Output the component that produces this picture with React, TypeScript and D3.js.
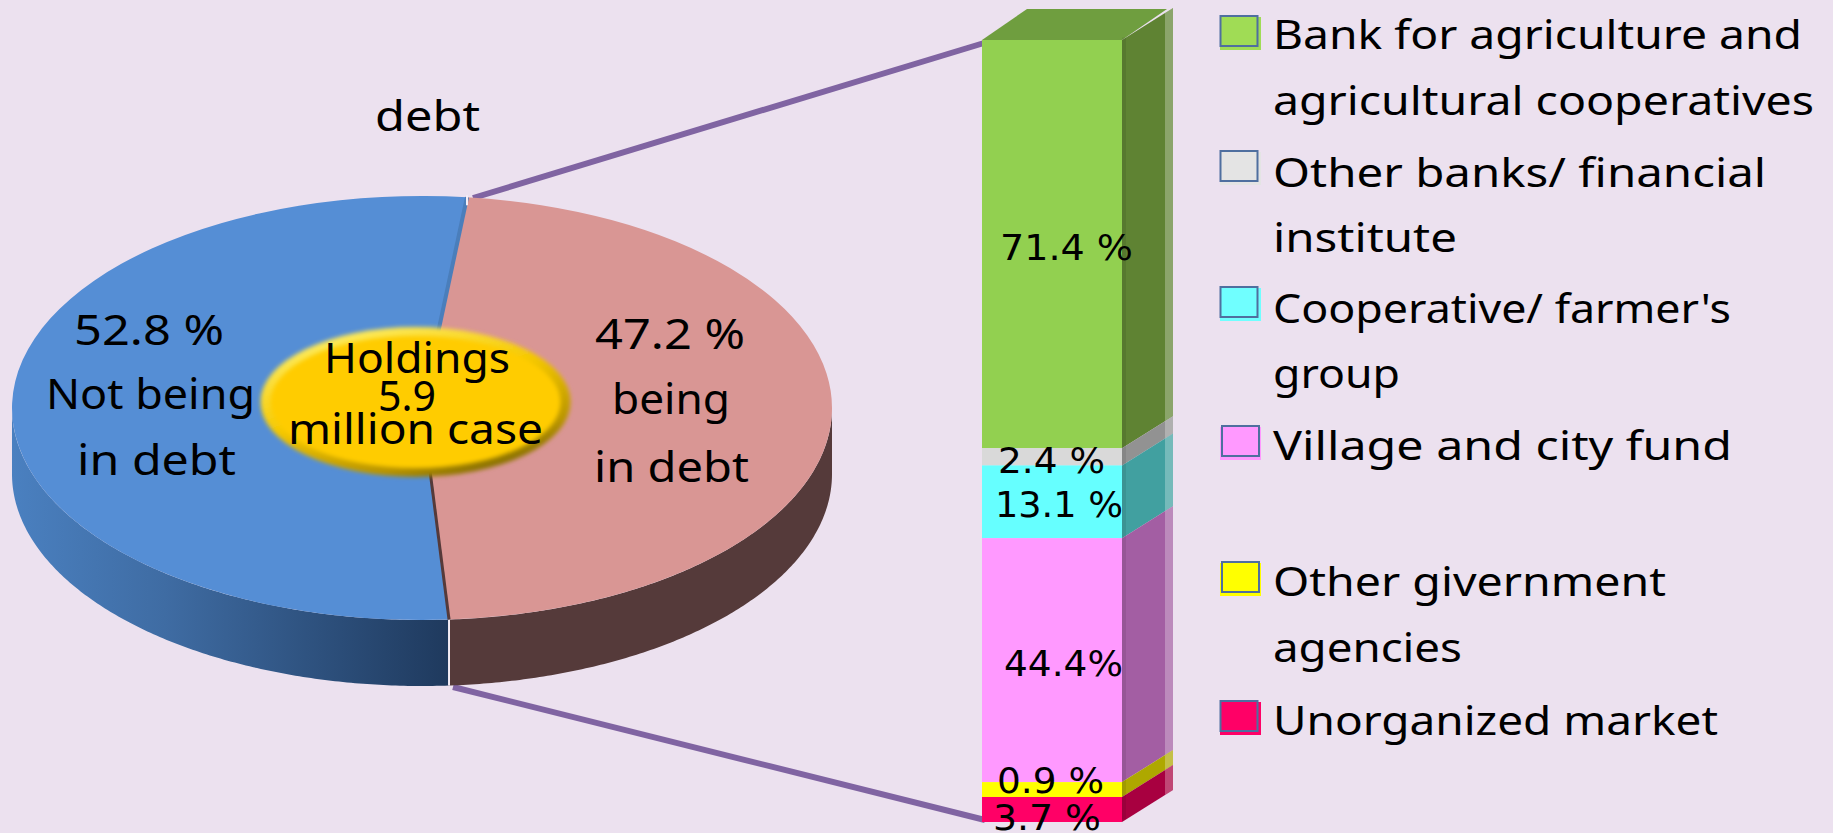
import React from "react";
import * as d3 from "d3";

const pieValues = [47.2, 52.8];
const pieColors = ["#d99694", "#558ed5"];
const barSeries = ["Bank for agriculture", "Other banks", "Cooperative", "Village fund", "Other government", "Unorganized"];
// share of the column's height each segment occupies
const barDrawnShare = [52.2, 2.2, 9.3, 31.2, 1.9, 3.2];
const barLabels = ["71.4 %", "2.4 %", "13.1 %", "44.4%", "0.9 %", "3.7 %"];
const barFront = ["#92d050", "#d9d9d9", "#66ffff", "#ff99ff", "#ffff00", "#ff0066"];
const barSide = ["#5f8333", "#929292", "#41a0a0", "#a35ea3", "#aea800", "#a80040"];
const legendColors = ["#a0dc55", "#e4e4e4", "#70ffff", "#ff99ff", "#ffff00", "#ff0066"];
const legendLines = [
  ["Bank for agriculture and", "agricultural cooperatives"],
  ["Other banks/ financial", "institute"],
  ["Cooperative/ farmer's", "group"],
  ["Village and city fund"],
  ["Other givernment", "agencies"],
  ["Unorganized market"],
];
const legendBoxY = [16, 151, 287, 426, 562, 701];
const legendBaselines = [[49, 115], [187, 252], [323, 388], [460], [596, 662], [735]];
const legendWidths = [[529, 541], [493, 184], [458, 127], [459], [393, 189], [445]];

const pieTexts = [
  { t: "52.8  %", x: 74, w: 150, y: 345 },
  { t: "Not being", x: 46, w: 209, y: 409 },
  { t: "in debt", x: 77, w: 159, y: 475 },
  { t: "47.2  %", x: 595, w: 150, y: 349 },
  { t: "being", x: 612, w: 118, y: 414 },
  { t: "in debt", x: 594, w: 155, y: 482 },
  { t: "Holdings", x: 324, w: 186, y: 373 },
  { t: "5.9", x: 378, w: 58, y: 411 },
  { t: "million case", x: 288, w: 255, y: 444 },
];
const barTextPos = [
  { x: 1000, w: 133, y: 260 },
  { x: 998, w: 107, y: 473 },
  { x: 995, w: 128, y: 517 },
  { x: 1004, w: 119, y: 676 },
  { x: 997, w: 107, y: 793 },
  { x: 993, w: 108, y: 830 },
];

const W = 1833, H = 833;
const cx = 422, cy = 408, rx = 410, ry = 212, depth = 66;
const start = (6.3 * Math.PI) / 180;
const textFont = "'Noto Sans', sans-serif";

const ex = (a: number) => cx + rx * Math.sin(a);
const ey = (a: number) => cy - ry * Math.cos(a);

export default function App() {
  const arcs = d3.pie<number>().sort(null).startAngle(start).endAngle(start + 2 * Math.PI)(pieValues);
  const arcGen = d3.arc<d3.PieArcDatum<number>>().innerRadius(0).outerRadius(rx);
  const split = arcs[0].endAngle;
  const sideArea = d3.area<number>().x(ex).y0(ey).y1((a) => ey(a) + depth);
  const rightSide = sideArea(d3.range(Math.PI / 2, split, 0.01).concat(split));
  const leftSide = sideArea(d3.range(split, (3 * Math.PI) / 2, 0.01).concat((3 * Math.PI) / 2));

  const barY = d3.scaleLinear().domain([0, 100]).range([40, 822]);
  const cum = d3.cumsum(barDrawnShare);
  const segs = barSeries.map((s, i) => ({ s, y0: barY(i ? cum[i - 1] : 0), y1: barY(cum[i]) }));
  const bx0 = 982, bx1 = 1122, sx = 1173, sdy = -32, stripX = 1165;
  const slope = sdy / (sx - bx1);
  const sideY = (x: number, y: number) => y + (x - bx1) * slope;

  return (
    <svg width={W} height={H} viewBox={`0 0 ${W} ${H}`} style={{ position: "absolute", left: 0, top: 0, display: "block" }}>
      <defs>
        <linearGradient id="blueSide" gradientUnits="userSpaceOnUse" x1={12} x2={447} y1={0} y2={0}>
          <stop offset="0" stopColor="#4a80c0" />
          <stop offset="0.35" stopColor="#3f6ca3" />
          <stop offset="1" stopColor="#1f3a5e" />
        </linearGradient>
        <linearGradient id="goldRim" x1="0.2" y1="0" x2="0.8" y2="1">
          <stop offset="0" stopColor="#fff06a" />
          <stop offset="0.45" stopColor="#f5c800" />
          <stop offset="0.8" stopColor="#b89400" />
          <stop offset="1" stopColor="#6f5c00" />
        </linearGradient>
        <filter id="soft" x="-5%" y="-10%" width="110%" height="120%">
          <feGaussianBlur stdDeviation="2" />
        </filter>
      </defs>
      <rect width={W} height={H} fill="#ece1ef" />

      {/* connectors */}
      <line x1={473} y1={198} x2={984} y2={43} stroke="#8064a2" strokeWidth={6} />
      <line x1={453} y1={687} x2={985} y2={820} stroke="#8064a2" strokeWidth={6} />

      {/* pie walls */}
      <path d={rightSide ?? ""} fill="#553a3a" />
      <path d={leftSide ?? ""} fill="url(#blueSide)" />
      <line x1={ex(split)} y1={ey(split)} x2={ex(split)} y2={ey(split) + depth} stroke="#f4eef6" strokeWidth={2} />

      {/* pie top */}
      <g transform={`translate(${cx},${cy}) scale(1,${ry / rx})`}>
        {arcs.map((a, i) => (
          <path key={i} d={arcGen(a) ?? ""} fill={pieColors[a.index]} />
        ))}
      </g>
      <line x1={cx} y1={cy} x2={ex(start)} y2={ey(start)} stroke="#4a7ebb" strokeWidth={4} />
      <line x1={cx} y1={cy} x2={ex(split)} y2={ey(split)} stroke="#553a3a" strokeWidth={3} />
      <line x1={ex(start)} y1={ey(start) - 2} x2={ex(start)} y2={ey(start) + 8} stroke="#f4eef6" strokeWidth={2} />

      {/* centre badge */}
      <ellipse cx={415.5} cy={402} rx={155} ry={75} fill="url(#goldRim)" filter="url(#soft)" />
      <ellipse cx={415.5} cy={402} rx={145} ry={66} fill="#ffcc00" filter="url(#soft)" />

      {/* column */}
      <polygon
        points={[[bx0, 40], [1027, 9], [stripX + 2, 9], [bx1, 40]].map((p) => p.join(",")).join(" ")}
        fill="#6f9e3f"
      />
      {segs.map((g, i) => (
        <g key={g.s}>
          <polygon
            points={[[bx1, g.y0], [sx, sideY(sx, g.y0)], [sx, sideY(sx, g.y1)], [bx1, g.y1]].map((p) => p.join(",")).join(" ")}
            fill={barSide[i]}
          />
          <polygon
            points={[[stripX, sideY(stripX, g.y0)], [sx, sideY(sx, g.y0)], [sx, sideY(sx, g.y1)], [stripX, sideY(stripX, g.y1)]].map((p) => p.join(",")).join(" ")}
            fill="#ffffff"
            opacity={0.28}
          />
          <rect x={bx1} y={sideY(bx1 + 4, g.y0)} width={4} height={g.y1 - g.y0} fill="#000000" opacity={0.08} />
          <rect x={bx0} y={g.y0} width={bx1 - bx0} height={g.y1 - g.y0} fill={barFront[i]} />
        </g>
      ))}
      {barLabels.map((t, i) => (
        <text
          key={t}
          x={barTextPos[i].x}
          y={barTextPos[i].y}
          textLength={barTextPos[i].w}
          lengthAdjust="spacingAndGlyphs"
          fontFamily="'DejaVu Sans', sans-serif"
          fontSize={36}
          fill="#000"
        >
          {t}
        </text>
      ))}

      {/* pie labels */}
      <text x={375} y={131} textLength={105} lengthAdjust="spacingAndGlyphs" fontFamily={textFont} fontSize={41} fill="#000">debt</text>
      {pieTexts.map((d, i) => (
        <text
          key={i}
          x={d.x}
          y={d.y}
          textLength={d.w}
          lengthAdjust="spacingAndGlyphs"
          fontFamily={textFont}
          fontSize={41}
          fill="#000"
        >
          {d.t}
        </text>
      ))}

      {/* legend */}
      {legendLines.map((lines, i) => (
        <g key={i}>
          <rect x={1220} y={legendBoxY[i] + 1} width={41} height={33} fill={legendColors[i]} />
          <rect x={i === 3 || i === 4 ? 1222 : 1220.5} y={legendBoxY[i]} width={37} height={30} fill={legendColors[i]} stroke="#4f6f9f" strokeWidth={2} />
          {lines.map((l, j) => (
            <text
              key={j}
              x={1273}
              y={legendBaselines[i][j]}
              textLength={legendWidths[i][j]}
              lengthAdjust="spacingAndGlyphs"
              fontFamily={textFont}
              fontSize={40}
              fill="#000"
            >
              {l}
            </text>
          ))}
        </g>
      ))}
    </svg>
  );
}
